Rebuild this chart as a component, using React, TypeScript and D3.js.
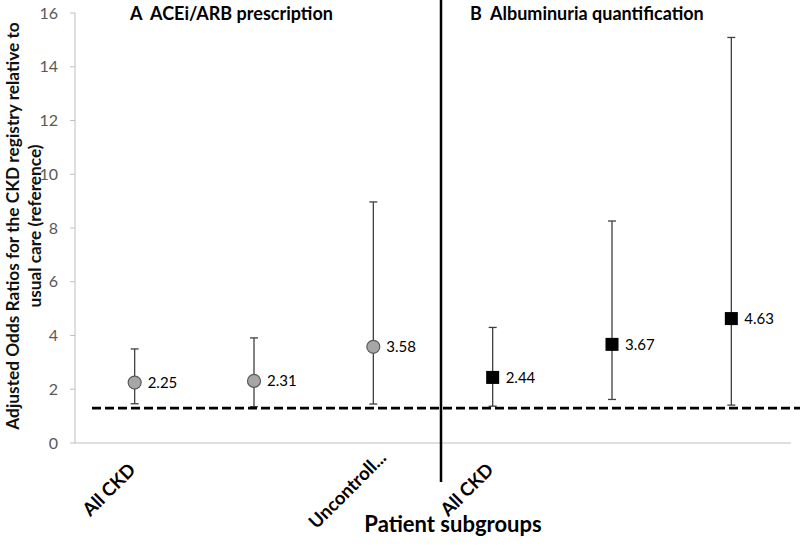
import React from "react";
import * as d3 from "d3";

const categories = ["A1", "A2", "A3", "B1", "B2", "B3"];
const tickLabels = ["All CKD", "", "Uncontroll...", "All CKD", "", ""];
const groups = ["A", "A", "A", "B", "B", "B"];
const estimates = [2.25, 2.31, 3.58, 2.44, 3.67, 4.63];
const lowerCI = [1.46, 1.35, 1.45, 1.37, 1.62, 1.41];
const upperCI = [3.5, 3.91, 8.97, 4.3, 8.26, 15.09];
const refLine = 1.3;
const yTicks = [0, 2, 4, 6, 8, 10, 12, 14, 16];

const W = 800, H = 546;
const FONT = "Lato, 'Open Sans', sans-serif";

export default function App() {
  const left = 75, right = 791, top = 13, bottom = 443;
  const x = d3.scaleBand().domain(categories).range([left, right]);
  const y = d3.scaleLinear().domain([0, 16]).range([bottom, top]);
  const cx = (c: string) => (x(c) as number) + x.bandwidth() / 2;
  const divX = (cx("A3") + cx("B1")) / 2 + 8;

  return (
    <svg width={W} height={H} style={{ position: "absolute", left: 0, top: 0, background: "#fff" }}>
      {/* axes */}
      <line x1={left} x2={left} y1={top} y2={bottom} stroke="#bfbfbf" strokeWidth={1} />
      <line x1={left} x2={right} y1={bottom} y2={bottom} stroke="#bfbfbf" strokeWidth={1} />
      {yTicks.map((t) => (
        <g key={t}>
          <line x1={left - 5} x2={left} y1={y(t)} y2={y(t)} stroke="#bfbfbf" />
          <text x={58} y={y(t)} dy="0.35em" textAnchor="end" fontSize={16} fill="#595959" fontFamily={FONT}>
            {t}
          </text>
        </g>
      ))}
      {/* y title */}
      <text transform={`translate(13,226) rotate(-90)`} textAnchor="middle" fontSize={17.3} fontWeight="bold" fill="#111" fontFamily={FONT}>
        <tspan x={0} dy="0.35em">Adjusted Odds Ratios for the CKD registry relative to</tspan>
        <tspan x={0} dy="22">usual care (reference)</tspan>
      </text>
      {/* panel titles */}
      <text x={130} y={20} fontSize={18} fontWeight="bold" fill="#000" fontFamily={FONT} style={{ whiteSpace: "pre" }}>
        {"A  ACEi/ARB prescription"}
      </text>
      <text x={470} y={20} fontSize={18} fontWeight="bold" fill="#000" fontFamily={FONT} style={{ whiteSpace: "pre" }}>
        {"B  Albuminuria quantification"}
      </text>
      {/* error bars */}
      {categories.map((c, i) => (
        <g key={c} stroke="#404040" strokeWidth={1.3}>
          <line x1={cx(c)} x2={cx(c)} y1={y(upperCI[i])} y2={y(lowerCI[i])} />
          <line x1={cx(c) - 4} x2={cx(c) + 4} y1={y(upperCI[i])} y2={y(upperCI[i])} />
          <line x1={cx(c) - 4} x2={cx(c) + 4} y1={y(lowerCI[i])} y2={y(lowerCI[i])} />
        </g>
      ))}
      {/* reference dashed line */}
      <line x1={92} x2={800} y1={y(refLine)} y2={y(refLine)} stroke="#000" strokeWidth={2.7} strokeDasharray="9,4" />
      {/* divider */}
      <line x1={divX} x2={divX} y1={0} y2={482} stroke="#000" strokeWidth={2.5} />
      {/* markers */}
      {categories.map((c, i) =>
        groups[i] === "A" ? (
          <circle key={c} cx={cx(c)} cy={y(estimates[i])} r={6.5} fill="#a6a6a6" stroke="#595959" strokeWidth={1.2} />
        ) : (
          <rect key={c} x={cx(c) - 6.5} y={y(estimates[i]) - 6.5} width={13} height={13} fill="#000" />
        )
      )}
      {categories.map((c, i) => (
        <text key={c} x={cx(c) + 13} y={y(estimates[i])} dy="0.35em" fontSize={15} fill="#000" fontFamily={FONT}>
          {estimates[i].toFixed(2)}
        </text>
      ))}
      {/* category labels */}
      {categories.map((c, i) =>
        tickLabels[i] ? (
          <text
            key={c}
            transform={`translate(${cx(c) + 2},${471}) rotate(-45)`}
            dx={tickLabels[i].endsWith("...") ? 17 : 0}
            textAnchor="end"
            fontSize={18.5}
            fontWeight="bold"
            fill="#000"
            fontFamily={FONT}
          >
            {tickLabels[i]}
          </text>
        ) : null
      )}
      <text x={453} y={532} textAnchor="middle" fontSize={22} fontWeight="bold" fill="#000" fontFamily={FONT}>
        Patient subgroups
      </text>
    </svg>
  );
}
